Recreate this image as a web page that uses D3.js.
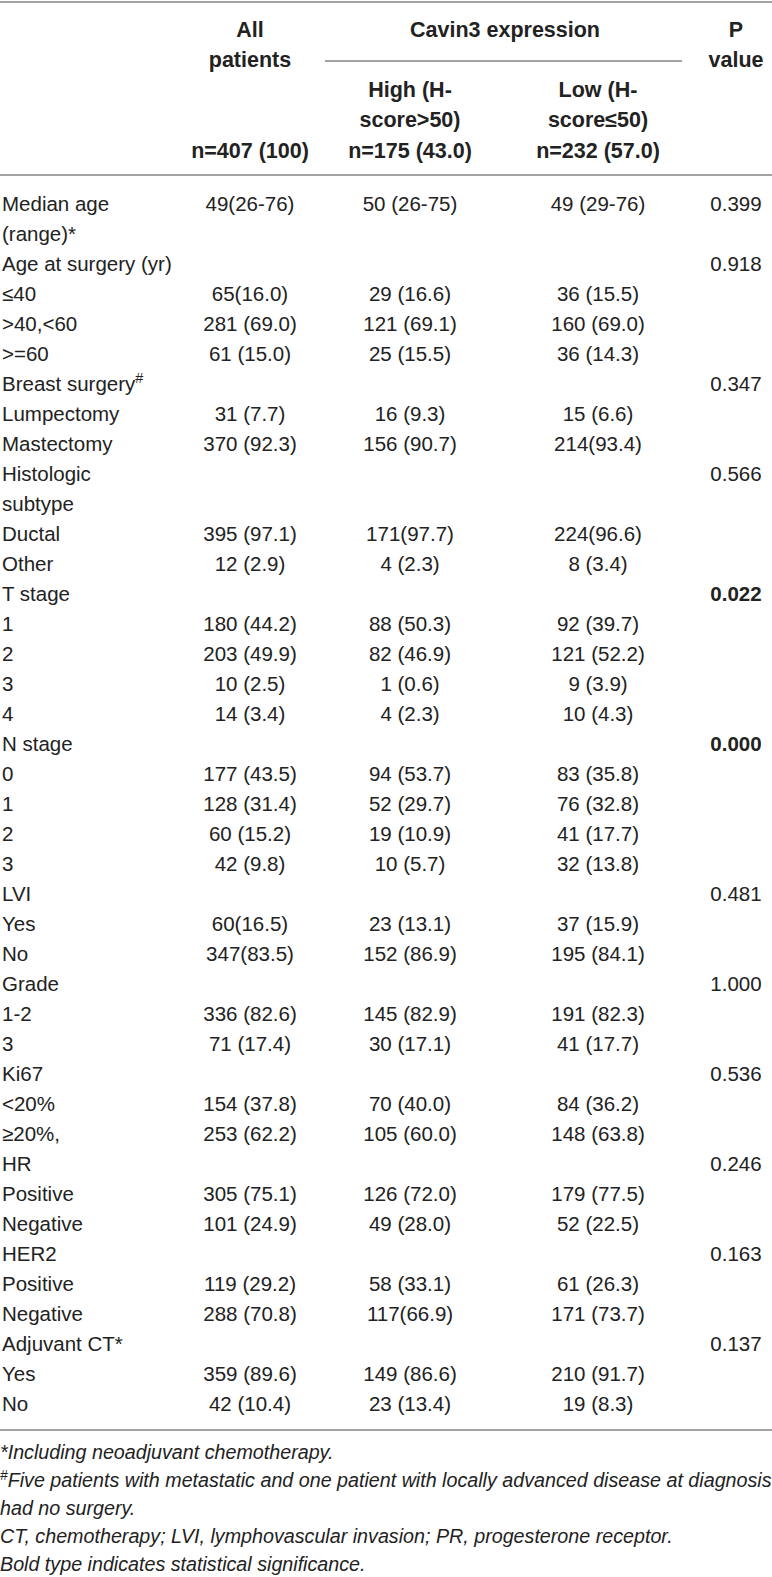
<!DOCTYPE html>
<html>
<head>
<meta charset="utf-8">
<script src="https://cdn.jsdelivr.net/npm/d3@7"></script>
<style>
  body { margin: 0; background: #fff; }
  svg { display: block; font-family: "Liberation Sans", Arial, sans-serif; }
</style>
</head>
<body>
<div id="chart"></div>
<script>
// row labels (arrays = wrapped cell)
const rowLabels = [["Median age", "(range)*"], "Age at surgery (yr)", "≤40", ">40,<60", ">=60",
  "Breast surgery#", "Lumpectomy", "Mastectomy", ["Histologic", "subtype"], "Ductal", "Other",
  "T stage", "1", "2", "3", "4", "N stage", "0", "1", "2", "3", "LVI", "Yes", "No",
  "Grade", "1-2", "3", "Ki67", "<20%", "≥20%,", "HR", "Positive", "Negative",
  "HER2", "Positive", "Negative", "Adjuvant CT*", "Yes", "No"];

const allPatients = ["49(26-76)", "", "65(16.0)", "281 (69.0)", "61 (15.0)", "", "31 (7.7)", "370 (92.3)",
  "", "395 (97.1)", "12 (2.9)", "", "180 (44.2)", "203 (49.9)", "10 (2.5)", "14 (3.4)", "",
  "177 (43.5)", "128 (31.4)", "60 (15.2)", "42 (9.8)", "", "60(16.5)", "347(83.5)", "",
  "336 (82.6)", "71 (17.4)", "", "154 (37.8)", "253 (62.2)", "", "305 (75.1)", "101 (24.9)",
  "", "119 (29.2)", "288 (70.8)", "", "359 (89.6)", "42 (10.4)"];

const highExpr = ["50 (26-75)", "", "29 (16.6)", "121 (69.1)", "25 (15.5)", "", "16 (9.3)", "156 (90.7)",
  "", "171(97.7)", "4 (2.3)", "", "88 (50.3)", "82 (46.9)", "1 (0.6)", "4 (2.3)", "",
  "94 (53.7)", "52 (29.7)", "19 (10.9)", "10 (5.7)", "", "23 (13.1)", "152 (86.9)", "",
  "145 (82.9)", "30 (17.1)", "", "70 (40.0)", "105 (60.0)", "", "126 (72.0)", "49 (28.0)",
  "", "58 (33.1)", "117(66.9)", "", "149 (86.6)", "23 (13.4)"];

const lowExpr = ["49 (29-76)", "", "36 (15.5)", "160 (69.0)", "36 (14.3)", "", "15 (6.6)", "214(93.4)",
  "", "224(96.6)", "8 (3.4)", "", "92 (39.7)", "121 (52.2)", "9 (3.9)", "10 (4.3)", "",
  "83 (35.8)", "76 (32.8)", "41 (17.7)", "32 (13.8)", "", "37 (15.9)", "195 (84.1)", "",
  "191 (82.3)", "41 (17.7)", "", "84 (36.2)", "148 (63.8)", "", "179 (77.5)", "52 (22.5)",
  "", "61 (26.3)", "171 (73.7)", "", "210 (91.7)", "19 (8.3)"];

const pValues = ["0.399", "0.918", "", "", "", "0.347", "", "", "0.566", "", "",
  "0.022", "", "", "", "", "0.000", "", "", "", "", "0.481", "", "",
  "1.000", "", "", "0.536", "", "", "0.246", "", "",
  "0.163", "", "", "0.137", "", ""];

const significant = ["0.022", "0.000"];

const headerTop = [["all", ["All", "patients"]], ["cavin", ["Cavin3 expression"]], ["p", ["P", "value"]]];
const headerSub = [["all", ["", "", "n=407 (100)"]], ["high", ["High (H-", "score>50)", "n=175 (43.0)"]],
  ["low", ["Low (H-", "score≤50)", "n=232 (57.0)"]]];

const footnotes = ["*Including neoadjuvant chemotherapy.",
  "#Five patients with metastatic and one patient with locally advanced disease at diagnosis",
  "had no surgery.",
  "CT, chemotherapy; LVI, lymphovascular invasion; PR, progesterone receptor.",
  "Bold type indicates statistical significance."];

const width = 772, height = 1577;
const ruleColor = "#a3a3a3";
const ink = "#222";

const svg = d3.select("#chart").append("svg")
  .attr("width", width)
  .attr("height", height);

const x = d3.scaleOrdinal()
  .domain(["label", "all", "high", "low", "cavin", "p"])
  .range([2, 250, 410, 598, 505, 736]);

// header line centres
const yHead = d3.scaleLinear().domain([0, 4]).range([29, 150]);

// body line centres
const yLine = d3.scaleLinear().domain([0, 40]).range([204, 1404]);

// footnote line centres
const yFoot = d3.scaleLinear().domain([0, 4]).range([1452, 1564]);

function rule(y, x1, x2) {
  svg.append("line")
    .attr("x1", x1).attr("x2", x2)
    .attr("y1", y).attr("y2", y)
    .attr("stroke", ruleColor)
    .attr("stroke-width", 2);
}

rule(2, 0, width);
rule(61, 325, 682);
rule(175, 0, width);
rule(1430, 0, width);

// header
const head = svg.append("g")
  .attr("font-weight", "bold")
  .attr("font-size", "21.5px")
  .attr("fill", ink)
  .attr("text-anchor", "middle");

headerTop.forEach(([col, lines]) => {
  lines.forEach((t, i) => {
    head.append("text").attr("x", x(col)).attr("y", yHead(i)).attr("dy", "0.36em").text(t);
  });
});
headerSub.forEach(([col, lines]) => {
  lines.forEach((t, i) => {
    if (t) head.append("text").attr("x", x(col)).attr("y", yHead(i + 2)).attr("dy", "0.36em").text(t);
  });
});

// body
const body = svg.append("g")
  .attr("font-size", "20.5px")
  .attr("fill", ink);

function addLabel(g, text, xPos, yPos, anchor) {
  const el = g.append("text")
    .attr("x", xPos).attr("y", yPos).attr("dy", "0.36em")
    .attr("text-anchor", anchor);
  const m = text.match(/^(#?)(.*?)(#?)$/);
  if (m[1]) el.append("tspan").attr("baseline-shift", "super").attr("font-size", "0.7em").text("#");
  el.append("tspan").text(m[2]);
  if (m[3]) el.append("tspan").attr("baseline-shift", "super").attr("font-size", "0.7em").text("#");
  return el;
}

let line = 0;
rowLabels.forEach((lab, r) => {
  const lines = Array.isArray(lab) ? lab : [lab];
  const yc = yLine(line);
  lines.forEach((t, i) => addLabel(body, t, x("label"), yLine(line + i), "start"));
  [["all", allPatients[r]], ["high", highExpr[r]], ["low", lowExpr[r]]].forEach(([col, v]) => {
    if (v) body.append("text").attr("x", x(col)).attr("y", yc).attr("dy", "0.36em")
      .attr("text-anchor", "middle").text(v);
  });
  if (pValues[r]) {
    body.append("text").attr("x", x("p")).attr("y", yc).attr("dy", "0.36em")
      .attr("text-anchor", "middle")
      .attr("font-weight", significant.includes(pValues[r]) ? "bold" : null)
      .text(pValues[r]);
  }
  line += lines.length;
});

// footnotes
const foot = svg.append("g")
  .attr("font-size", "19.7px")
  .attr("font-style", "italic")
  .attr("fill", ink);

footnotes.forEach((t, i) => addLabel(foot, t, 0, yFoot(i), "start"));
</script>
</body>
</html>
